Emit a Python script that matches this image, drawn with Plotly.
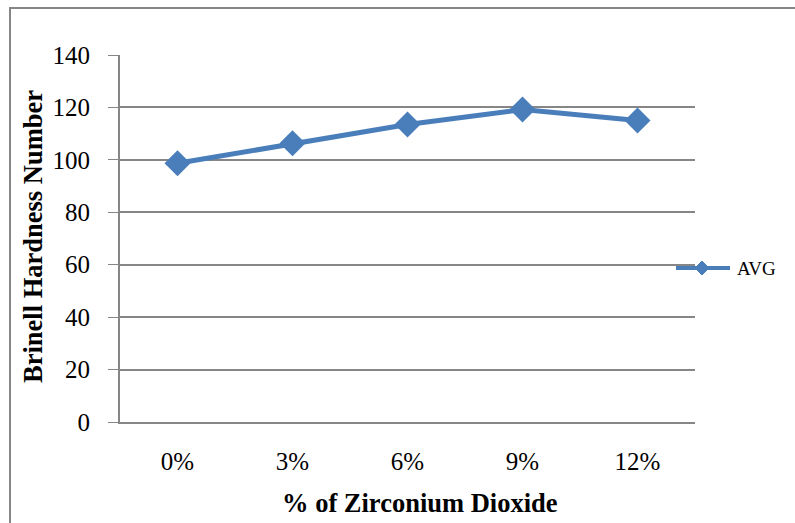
import plotly.graph_objects as go

categories = ["0%", "3%", "6%", "9%", "12%"]
avg_values = [98.7, 106.3, 113.5, 119.2, 115.0]
y_ticks = [0, 20, 40, 60, 80, 100, 120, 140]
series_name = "AVG"

BLUE = "#4A7EBB"
GRAY = "#868686"
FONT = "Liberation Serif, Times New Roman, serif"

L, R, T, B = 120, 695, 55, 422
W, H = R - L, B - T


def px(x):
    return (x - L) / W


def py(y):
    return (B - y) / H


fig = go.Figure()
fig.add_trace(go.Scatter(
    x=categories, y=avg_values, name=series_name, mode="lines+markers",
    line=dict(color=BLUE, width=5),
    marker=dict(symbol="diamond", size=20, color=BLUE),
    showlegend=False,
))

# legend drawn manually (line + diamond + label)
lx0, lx1, ly, lcx, d = 676, 730, 268, 702, 7
legend_shapes = [
    dict(type="line", xref="paper", yref="paper", x0=px(lx0), x1=px(lx1), y0=py(ly), y1=py(ly),
         line=dict(color=BLUE, width=4)),
    dict(type="path", xref="paper", yref="paper",
         path=f"M {px(lcx - d)} {py(ly)} L {px(lcx)} {py(ly - d)} L {px(lcx + d)} {py(ly)} L {px(lcx)} {py(ly + d)} Z",
         fillcolor=BLUE, line=dict(color=BLUE, width=1)),
]

fig.update_layout(
    width=795, height=523,
    margin=dict(l=L, r=795 - R, t=T, b=523 - B),
    paper_bgcolor="white", plot_bgcolor="white",
    font=dict(family=FONT, color="black", size=25),
    showlegend=False,
    xaxis=dict(
        type="category", range=[-0.5, len(categories) - 0.5],
        showline=True, linecolor=GRAY, linewidth=2,
        ticks="", showgrid=False, tickfont=dict(size=25),
        ticklabelstandoff=16,
    ),
    yaxis=dict(
        range=[0, 140], tickvals=y_ticks, showline=True, linecolor=GRAY, linewidth=2,
        ticks="outside", ticklen=10, tickcolor=GRAY, tickwidth=1,
        showgrid=True, gridcolor=GRAY, gridwidth=2, zeroline=False,
        tickfont=dict(size=25), ticklabelstandoff=13,
    ),
    annotations=[
        dict(text="<b>% of Zirconium Dioxide</b>", xref="paper", yref="paper",
             x=px(420), y=py(503), xanchor="center", yanchor="middle",
             showarrow=False, font=dict(size=26.5, family=FONT)),
        dict(text="<b>Brinell Hardness Number</b>", xref="paper", yref="paper",
             x=px(33), y=py(237), xanchor="center", yanchor="middle",
             textangle=-90, showarrow=False, font=dict(size=26.5, family=FONT)),
        dict(text=series_name, xref="paper", yref="paper",
             x=px(735), y=py(268), xanchor="left", yanchor="middle",
             showarrow=False, font=dict(size=19, family=FONT)),
    ],
    shapes=[
        dict(type="rect", xref="paper", yref="paper",
             x0=px(10), x1=px(900), y0=py(700), y1=py(8),
             line=dict(color=GRAY, width=2), layer="below"),
    ] + legend_shapes,
)

fig.write_html("out.html", config={"displayModeBar": False},
               post_script="document.body.style.margin='0px';")
